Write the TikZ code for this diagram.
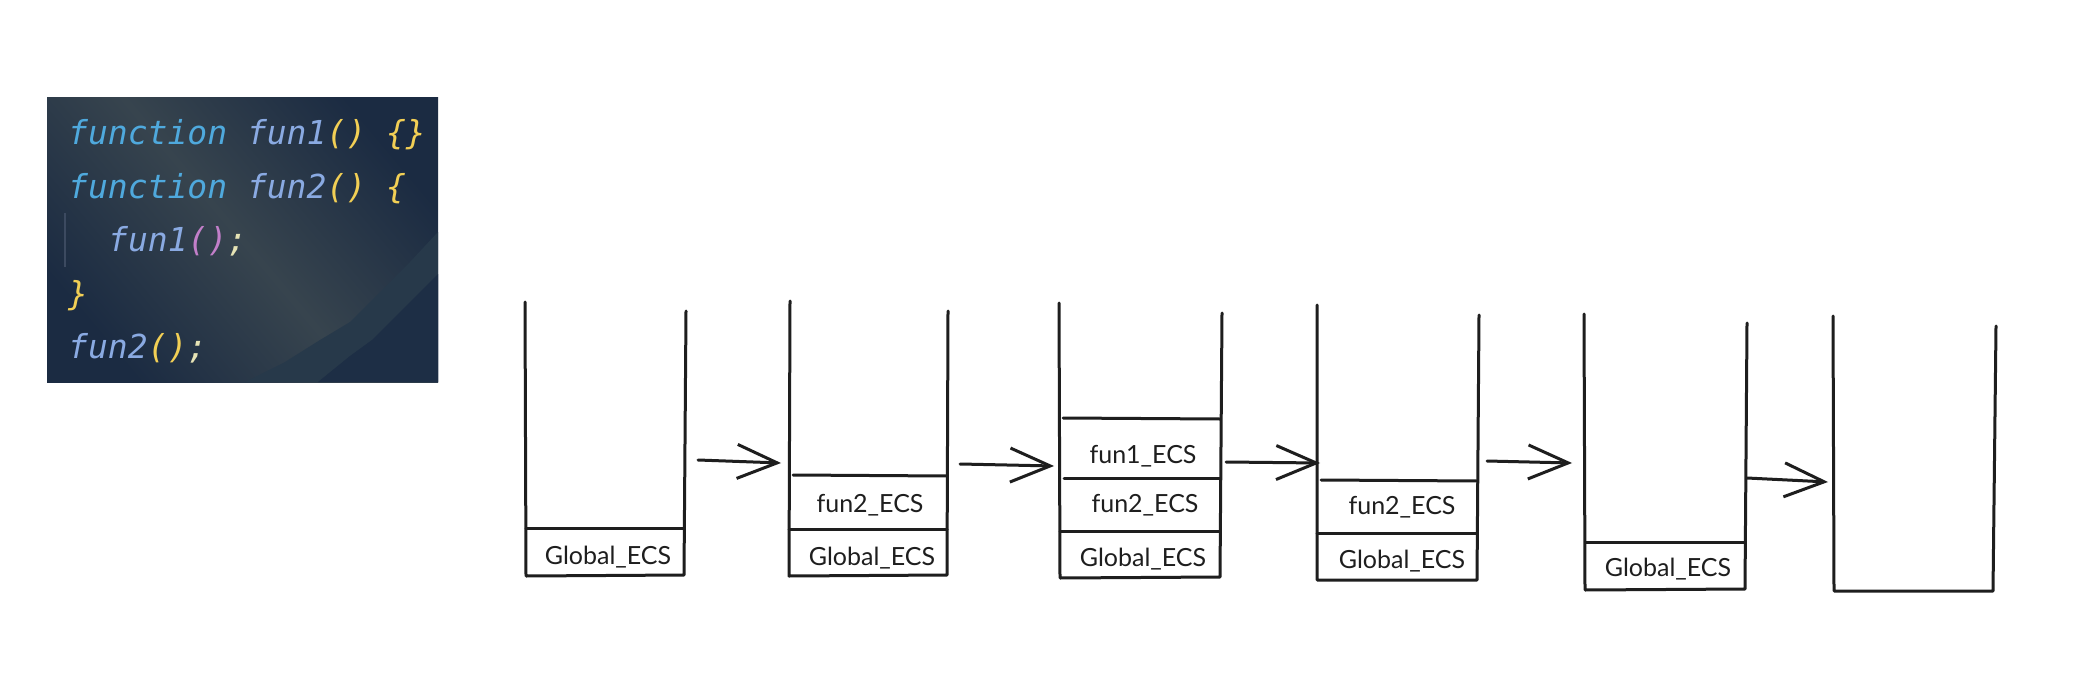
\documentclass[tikz,border=0pt]{standalone}
\usepackage{fontspec}
\setmainfont{Lato}
\newfontfamily\codefont{DejaVu Sans Mono}
\usetikzlibrary{arrows.meta}
\definecolor{bgdark}{HTML}{1B2B42}
\definecolor{bgmid}{HTML}{37444E}
\definecolor{mtnA}{HTML}{27394A}
\definecolor{mtnB}{HTML}{1D2E45}
\definecolor{kwc}{HTML}{4FA9DD}
\definecolor{fnc}{HTML}{8AAAE2}
\definecolor{parc}{HTML}{F2CF55}
\definecolor{pinkc}{HTML}{C27FC9}
\definecolor{semic}{HTML}{E6E3B5}
\definecolor{guidec}{HTML}{3C4A60}
\definecolor{inkc}{HTML}{1E1E1E}
\tikzset{
  wall/.style={draw=inkc, line width=3pt, line cap=round, line join=round},
  frameline/.style={draw=inkc, line width=3pt, line cap=round},
  framelabel/.style={font=\fontsize{25}{30}\selectfont, text=inkc, inner sep=0pt},
  codeline/.style={anchor=base west, inner sep=0pt, font=\codefont\itshape\fontsize{33}{40}\selectfont},
  pusharrow/.style={draw=inkc, line width=3pt, line cap=round, -{Straight Barb[length=40pt,width=34pt,line width=3pt]}}
}
\begin{document}
\begin{tikzpicture}[x=1pt,y=-1pt]
\useasboundingbox (0,0) rectangle (2074,682);
\fill[white] (0,0) rectangle (2074,682);
% code panel
\shade[top color=bgdark, bottom color=bgdark, middle color=bgmid, shading angle=130] (47,98) rectangle (438,382);
\fill[mtnA] (245,382) -- (285,362) -- (320,340) -- (350,322) -- (380,292) -- (410,262) -- (438,232) -- (438,382) -- cycle;
\fill[mtnB] (318,382) -- (350,356) -- (372,340) -- (400,312) -- (420,292) -- (438,274) -- (438,382) -- cycle;
\draw[guidec, line width=1.5pt] (65,213) -- (65,267);
\node[codeline] (c1) at (68,144) {\textcolor{kwc}{function} \textcolor{fnc}{fun1}\textcolor{parc}{()} \textcolor{parc}{\{\}}};
\node[codeline] (c2) at (68,198) {\textcolor{kwc}{function} \textcolor{fnc}{fun2}\textcolor{parc}{()} \textcolor{parc}{\{}};
\node[codeline] (c3) at (108,251) {\textcolor{fnc}{fun1}\textcolor{pinkc}{()}\textcolor{semic}{;}};
\node[codeline] (c4) at (68,305) {\textcolor{parc}{\}}};
\node[codeline] (c5) at (68,358) {\textcolor{fnc}{fun2}\textcolor{parc}{()}\textcolor{semic}{;}};
% stack 1
\draw[wall] (525,302) -- (526,576) -- (684,575) -- (686,311);
\draw[frameline] (526,528) -- (684,528);
\node[framelabel] (s1g) at (608,557) {Global\_ECS};
% stack 2
\draw[wall] (790,301) -- (789,576) -- (947,575) -- (948,311);
\draw[frameline] (793,475) -- (947,476);
\draw[frameline] (789,529) -- (947,529);
\node[framelabel] (s2f2) at (870,505) {fun2\_ECS};
\node[framelabel] (s2g) at (872,558) {Global\_ECS};
% stack 3
\draw[wall] (1059,303) -- (1060,578) -- (1220,577) -- (1222,313);
\draw[frameline] (1063,418) -- (1220,419);
\draw[frameline] (1064,478) -- (1220,478);
\draw[frameline] (1060,531) -- (1220,531);
\node[framelabel] (s3f1) at (1143,456) {fun1\_ECS};
\node[framelabel] (s3f2) at (1145,505) {fun2\_ECS};
\node[framelabel] (s3g) at (1143,559) {Global\_ECS};
% stack 4
\draw[wall] (1317,305) -- (1317,580) -- (1477,580) -- (1479,315);
\draw[frameline] (1321,480) -- (1477,481);
\draw[frameline] (1317,533) -- (1477,533);
\node[framelabel] (s4f2) at (1402,507) {fun2\_ECS};
\node[framelabel] (s4g) at (1402,561) {Global\_ECS};
% stack 5
\draw[wall] (1584,314) -- (1585,590) -- (1745,589) -- (1747,323);
\draw[frameline] (1586,542) -- (1745,542);
\node[framelabel] (s5g) at (1668,569) {Global\_ECS};
% stack 6
\draw[wall] (1833,316) -- (1834,591) -- (1993,591) -- (1996,326);
% arrow end points
\coordinate (a1s) at (698,460); \coordinate (a1e) at (781,463);
\coordinate (a2s) at (960,464); \coordinate (a2e) at (1054,466);
\coordinate (a3s) at (1226,462); \coordinate (a3e) at (1320,463);
\coordinate (a4s) at (1487,461); \coordinate (a4e) at (1572,463);
\coordinate (a5s) at (1747,478); \coordinate (a5e) at (1828,482);
\draw[pusharrow] (a1s) -- (a1e);
\draw[pusharrow] (a2s) -- (a2e);
\draw[pusharrow] (a3s) -- (a3e);
\draw[pusharrow] (a4s) -- (a4e);
\draw[pusharrow] (a5s) -- (a5e);
\end{tikzpicture}
\end{document}
